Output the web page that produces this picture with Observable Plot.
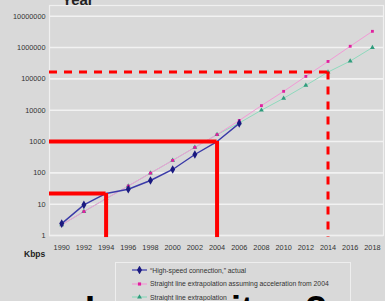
<!DOCTYPE html>
<html><head><meta charset="utf-8">
<script src="https://cdn.jsdelivr.net/npm/d3@7"></script>
<script src="https://cdn.jsdelivr.net/npm/@observablehq/plot@0.6"></script>
<style>
body{margin:0;background:#d9d9d9;font-family:"Liberation Sans",Arial,sans-serif;overflow:hidden;}
#wrap{position:relative;width:385px;height:301px;overflow:hidden;background:#d9d9d9;}
#wrap svg.plot{position:absolute;left:0;top:0;}
.yearlbl{position:absolute;left:62px;top:-8px;font-weight:bold;font-size:15px;line-height:15px;color:#222;}
.kbps{position:absolute;left:24px;top:250px;font-weight:bold;font-size:8.5px;line-height:9px;color:#222;}
.legend{position:absolute;left:115px;top:262px;width:236px;height:50px;border:1px solid #eeeeee;box-sizing:border-box;}
.legend .row{position:absolute;left:16px;height:10px;display:flex;align-items:center;font-size:6.8px;color:#333;white-space:nowrap;}
.legend .row svg{margin-right:2px;}
.big{position:absolute;left:85px;top:292px;font-weight:bold;font-size:36px;line-height:36px;color:#000;white-space:pre;}
</style></head><body><div id="wrap"></div><script>
const years = [1990,1992,1994,1996,1998,2000,2002,2004,2006,2008,2010,2012,2014,2016,2018];
const actualYears = [1990,1992,1994,1996,1998,2000,2002,2004,2006];
const actual = [2.4, 9.5, 22, 30, 57, 128, 385, 1000, 3800];
const accelerated = [2.2, 5.8, 15, 38, 98, 250, 650, 1660, 4700, 14000, 40000, 120000, 360000, 1100000, 3300000];
const straight = [2.2, 5.8, 15, 38, 98, 250, 650, 1660, 3900, 10000, 24000, 62000, 165000, 370000, 1000000];
const yTicks = [1, 10, 100, 1000, 10000, 100000, 1000000, 10000000];
const xTicks = years;
const guideYears = [1994, 2004, 2014];
const guideValues = [22, 1000, 165000];
const guideDashed = [false, false, true];
const legendLabels = ["\u201cHigh-speed connection,\u201d actual", "Straight line extrapolation assuming acceleration from 2004", "Straight line extrapolation"];
const seriesColors = {actual: "#3a3aa8", accelerated: "#f29ad6", straight: "#8fd9bd"};
const markerColors = {actual: "#1a1a80", accelerated: "#e0209e", straight: "#2f9c7c"};

const xDomain = [1988.9, 2019];
const yDomain = [1, 22000000];

const actualData = actualYears.map((y, i) => ({year: y, value: actual[i]}));
const accData = years.map((y, i) => ({year: y, value: accelerated[i]}));
const strData = years.map((y, i) => ({year: y, value: straight[i]}));
const guides = guideYears.map((y, i) => ({year: y, value: guideValues[i], dashed: guideDashed[i]}));

const chart = Plot.plot({
  width: 385, height: 262,
  marginLeft: 49, marginRight: 2, marginTop: 5, marginBottom: 27,
  style: {background: "transparent", color: "#333", fontSize: "7.3px", fontFamily: "Liberation Sans, Arial, sans-serif"},
  x: {domain: xDomain, ticks: xTicks, tickFormat: d => String(d), tickSize: 0, tickPadding: 9, label: null},
  y: {type: "log", domain: yDomain, ticks: yTicks, tickFormat: d => String(d), tickSize: 0, tickPadding: 4, label: null},
  marks: [
    Plot.ruleY(yTicks, {stroke: "#f2f2f2", strokeWidth: 1.6}),
    Plot.frame({stroke: "#f0f0f0", strokeWidth: 1.2}),
    Plot.line(strData, {x: "year", y: "value", stroke: seriesColors.straight, strokeWidth: 1}),
    Plot.line(accData, {x: "year", y: "value", stroke: seriesColors.accelerated, strokeWidth: 1}),
    Plot.line(actualData, {x: "year", y: "value", stroke: seriesColors.actual, strokeWidth: 1.4}),
    Plot.dot(strData, {x: "year", y: "value", symbol: "triangle", r: 1.8, fill: markerColors.straight}),
    Plot.dot(accData, {x: "year", y: "value", symbol: "square", r: 1.6, fill: markerColors.accelerated}),
    Plot.dot(actualData.filter(d => !guideYears.includes(d.year)), {x: "year", y: "value", symbol: "diamond", r: 2.6, fill: markerColors.actual}),
    Plot.ruleY(guides.filter(d => !d.dashed), {y: "value", x1: xDomain[0], x2: "year", stroke: "#ff0000", strokeWidth: 4}),
    Plot.ruleX(guides.filter(d => !d.dashed), {x: "year", y1: "value", y2: 0.86, stroke: "#ff0000", strokeWidth: 4}),
    Plot.ruleY(guides.filter(d => d.dashed), {y: "value", x1: xDomain[0], x2: "year", stroke: "#ff0000", strokeWidth: 3, strokeDasharray: "8,7"}),
    Plot.ruleX(guides.filter(d => d.dashed), {x: "year", y1: "value", y2: 0.86, stroke: "#ff0000", strokeWidth: 3, strokeDasharray: "8,7"})
  ]
});
chart.classList.add("plot");
const wrap = document.getElementById("wrap");
wrap.appendChild(chart);

const yl = document.createElement("div"); yl.className = "yearlbl"; yl.textContent = "Year"; wrap.appendChild(yl);
const kb = document.createElement("div"); kb.className = "kbps"; kb.textContent = "Kbps"; wrap.appendChild(kb);

const legend = document.createElement("div"); legend.className = "legend"; wrap.appendChild(legend);
const legendKeys = ["actual", "accelerated", "straight"];
const legendSymbols = [d3.symbolDiamond, d3.symbolSquare, d3.symbolTriangle];
const legendSizes = [22, 10, 10];
legendLabels.forEach((lab, i) => {
  const row = document.createElement("div"); row.className = "row";
  row.style.top = (2 + i * 13.5) + "px";
  const svg = d3.create("svg").attr("width", 16).attr("height", 8);
  svg.append("line").attr("x1", 0).attr("x2", 15).attr("y1", 4).attr("y2", 4).attr("stroke", seriesColors[legendKeys[i]]).attr("stroke-width", 1.2);
  svg.append("path").attr("transform", "translate(7.5,4)").attr("d", d3.symbol(legendSymbols[i], legendSizes[i])()).attr("fill", markerColors[legendKeys[i]]);
  row.appendChild(svg.node());
  const t = document.createElement("span"); t.textContent = lab; row.appendChild(t);
  legend.appendChild(row);
});
const big = document.createElement("div"); big.className = "big"; big.textContent = "Is never it so?"; wrap.appendChild(big);
</script></body></html>
